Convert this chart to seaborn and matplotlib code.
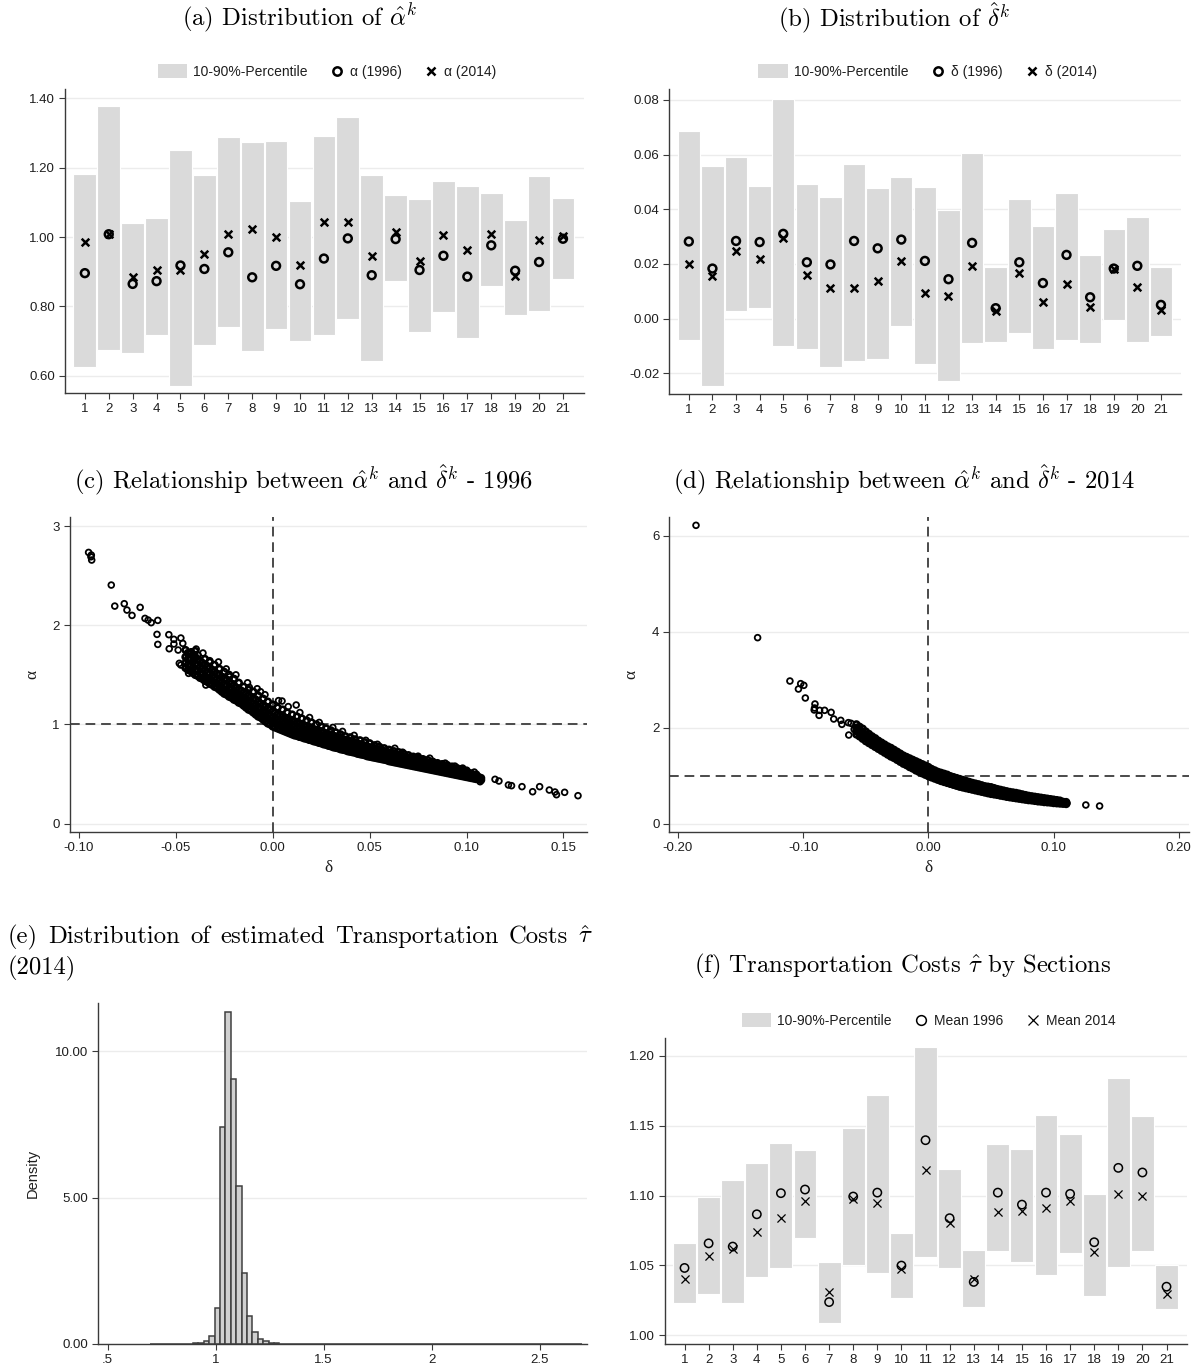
import numpy as np
import matplotlib
matplotlib.use("Agg")
import matplotlib.pyplot as plt
import seaborn as sns
from matplotlib.lines import Line2D
from matplotlib.patches import Rectangle, Patch
from matplotlib.legend_handler import HandlerPatch

# ---------------------------------------------------------------- data
sections = list(range(1, 22))

# (a) alpha by section: 10th / 90th percentile and means
alpha_p10 = [0.627, 0.675, 0.666, 0.718, 0.572, 0.690, 0.740, 0.673, 0.735, 0.702, 0.718,
             0.764, 0.644, 0.872, 0.728, 0.783, 0.708, 0.858, 0.776, 0.787, 0.878]
alpha_p90 = [1.181, 1.378, 1.041, 1.054, 1.251, 1.179, 1.288, 1.274, 1.277, 1.104, 1.290,
             1.346, 1.179, 1.120, 1.110, 1.161, 1.148, 1.128, 1.049, 1.176, 1.113]
alpha_1996 = [0.896, 1.008, 0.865, 0.873, 0.918, 0.908, 0.956, 0.884, 0.917, 0.864, 0.938,
              0.996, 0.890, 0.994, 0.905, 0.946, 0.886, 0.976, 0.903, 0.928, 0.995]
alpha_2014 = [0.985, 1.008, 0.886, 0.906, 0.904, 0.950, 1.009, 1.024, 1.001, 0.918, 1.043,
              1.044, 0.944, 1.015, 0.931, 1.007, 0.962, 1.009, 0.888, 0.990, 1.004]

# (b) delta by section
delta_p10 = [-0.0079, -0.0245, 0.0027, 0.0037, -0.0101, -0.0112, -0.0178, -0.0156, -0.0149,
             -0.0027, -0.0165, -0.0227, -0.0090, -0.0085, -0.0052, -0.0113, -0.0080, -0.0091,
             -0.0005, -0.0085, -0.0062]
delta_p90 = [0.0685, 0.0560, 0.0593, 0.0484, 0.0805, 0.0493, 0.0445, 0.0566, 0.0476, 0.0517,
             0.0483, 0.0396, 0.0605, 0.0190, 0.0437, 0.0337, 0.0459, 0.0232, 0.0329, 0.0373,
             0.0190]
delta_1996 = [0.0282, 0.0183, 0.0284, 0.0280, 0.0310, 0.0206, 0.0198, 0.0284, 0.0257, 0.0289,
              0.0211, 0.0144, 0.0277, 0.0038, 0.0206, 0.0130, 0.0233, 0.0078, 0.0183, 0.0193,
              0.0050]
delta_2014 = [0.0198, 0.0154, 0.0246, 0.0217, 0.0294, 0.0158, 0.0113, 0.0113, 0.0139, 0.0211,
              0.0095, 0.0082, 0.0194, 0.0026, 0.0168, 0.0060, 0.0126, 0.0043, 0.0183, 0.0116,
              0.0031]

# (f) transportation costs by section
tau_p10 = [1.0229, 1.0296, 1.0229, 1.0420, 1.0484, 1.0699, 1.0086, 1.0503, 1.0444, 1.0269,
           1.0558, 1.0479, 1.0205, 1.0604, 1.0527, 1.0432, 1.0592, 1.0281, 1.0491, 1.0604,
           1.0186]
tau_p90 = [1.0661, 1.0990, 1.1112, 1.1236, 1.1379, 1.1329, 1.0522, 1.1480, 1.1716, 1.0732,
           1.2062, 1.1188, 1.0611, 1.1372, 1.1334, 1.1578, 1.1439, 1.1009, 1.1840, 1.1568,
           1.0501]
tau_mean_1996 = [1.0482, 1.0658, 1.0635, 1.0866, 1.1017, 1.1043, 1.0238, 1.0993, 1.1021,
                 1.0499, 1.1396, 1.0838, 1.0382, 1.1021, 1.0935, 1.1021, 1.1012, 1.0666,
                 1.1198, 1.1165, 1.0348]
tau_mean_2014 = [1.0403, 1.0568, 1.0616, 1.0742, 1.0840, 1.0962, 1.0310, 1.0974, 1.0950,
                 1.0472, 1.1184, 1.0802, 1.0405, 1.0885, 1.0888, 1.0909, 1.0959, 1.0594,
                 1.1012, 1.0997, 1.0298]

# (e) histogram of tau (2014): bin centres and densities of the non-empty bins
tau_centers = [0.8825, 0.9075, 0.9325, 0.9575, 0.9825, 1.0075, 1.0325, 1.0575, 1.0825,
               1.1075, 1.1325, 1.1575, 1.1825, 1.2075, 1.2325, 1.2575, 1.2825, 1.3075,
               2.5325, 2.6825]
tau_density = [0.01, 0.02, 0.05, 0.09, 0.27, 1.23, 7.43, 11.35, 9.04, 5.39, 2.44, 0.97,
               0.41, 0.18, 0.09, 0.05, 0.02, 0.01, 0.01, 0.01]

# (c) alpha vs delta, 1996: isolated industries and the dense band (delta, alphas...)
outliers_1996 = [(-0.0950, 2.734), (-0.0936, 2.707), (-0.0938, 2.690), (-0.0934, 2.657),
                 (-0.0833, 2.405), (-0.0815, 2.193), (-0.0766, 2.217), (-0.0752, 2.153),
                 (-0.0726, 2.099), (-0.0684, 2.180), (-0.0659, 2.069), (-0.0643, 2.052),
                 (-0.0627, 2.026), (-0.0593, 2.049), (-0.0597, 1.908), (-0.0593, 1.807),
                 (-0.0536, 1.905), (-0.0534, 1.763), (-0.0510, 1.858), (-0.0510, 1.811),
                 (-0.0474, 1.871), (-0.0464, 1.817), (-0.0488, 1.750), (-0.0482, 1.616),
                 (-0.0474, 1.599), (-0.0325, 1.643), (-0.0355, 1.448), (-0.0345, 1.397),
                 (-0.0434, 1.515), (-0.0385, 1.700), (-0.0421, 1.733), (-0.0405, 1.666),
                 (0.0121, 1.196), (0.0048, 1.236), (-0.0063, 1.330), (-0.0121, 1.374),
                 (-0.0222, 1.481), (0.1063, 0.474), (0.1070, 0.423), (0.1147, 0.447),
                 (0.1167, 0.430), (0.1216, 0.390), (0.1232, 0.383), (0.1286, 0.373),
                 (0.1341, 0.322), (0.1377, 0.373), (0.1427, 0.339), (0.1456, 0.319),
                 (0.1464, 0.292), (0.1506, 0.316), (0.1575, 0.282),
                 (-0.0395, 1.76), (-0.0360, 1.72), (-0.0280, 1.63), (-0.0240, 1.56),
                 (-0.0190, 1.50), (-0.0130, 1.42), (-0.0080, 1.36), (-0.0040, 1.30),
                 (0.0030, 1.24), (0.0080, 1.18), (0.0140, 1.12), (0.0190, 1.07),
                 (0.0240, 1.02), (0.0310, 0.97), (0.0360, 0.93), (0.0420, 0.89),
                 (0.0480, 0.84), (0.0540, 0.80), (0.0630, 0.76), (0.0670, 0.72),
                 (0.0750, 0.68), (0.0810, 0.66), (0.0890, 0.61), (0.0940, 0.58),
                 (0.0980, 0.56), (0.1040, 0.52)]
band_1996 = [
    (-0.0450, 1.57, 1.62, 1.68, 1.75), (-0.0425, 1.54, 1.59, 1.66, 1.72),
    (-0.0400, 1.50, 1.55, 1.61, 1.68, 1.74), (-0.0375, 1.47, 1.52, 1.58, 1.64),
    (-0.0350, 1.44, 1.48, 1.54, 1.60, 1.66), (-0.0325, 1.41, 1.45, 1.51, 1.57, 1.63),
    (-0.0300, 1.38, 1.42, 1.47, 1.53, 1.60), (-0.0275, 1.35, 1.39, 1.44, 1.50, 1.56),
    (-0.0250, 1.31, 1.35, 1.40, 1.46, 1.53), (-0.0225, 1.28, 1.32, 1.37, 1.43, 1.50),
    (-0.0200, 1.25, 1.29, 1.34, 1.39, 1.46), (-0.0175, 1.22, 1.26, 1.30, 1.35, 1.42),
    (-0.0150, 1.19, 1.23, 1.27, 1.32, 1.38), (-0.0125, 1.15, 1.19, 1.24, 1.29, 1.35),
    (-0.0100, 1.12, 1.16, 1.21, 1.26, 1.33), (-0.0075, 1.08, 1.12, 1.17, 1.23, 1.29),
    (-0.0050, 1.05, 1.09, 1.14, 1.19, 1.26), (-0.0025, 1.01, 1.06, 1.11, 1.16, 1.23),
    (0.0000, 0.98, 1.02, 1.07, 1.13, 1.20), (0.0025, 0.96, 1.00, 1.05, 1.10, 1.17),
    (0.0050, 0.94, 0.98, 1.03, 1.08, 1.15), (0.0075, 0.92, 0.96, 1.01, 1.06, 1.12),
    (0.0100, 0.90, 0.94, 0.99, 1.04, 1.10), (0.0125, 0.885, 0.92, 0.97, 1.02, 1.08),
    (0.0150, 0.87, 0.91, 0.95, 1.00, 1.06), (0.0175, 0.855, 0.89, 0.935, 0.98, 1.04),
    (0.0200, 0.84, 0.875, 0.92, 0.96, 1.02), (0.0225, 0.825, 0.86, 0.90, 0.945, 1.00),
    (0.0250, 0.81, 0.845, 0.885, 0.93, 0.98), (0.0275, 0.795, 0.83, 0.87, 0.91, 0.96),
    (0.0300, 0.78, 0.815, 0.855, 0.895, 0.94), (0.0325, 0.765, 0.80, 0.84, 0.88, 0.92),
    (0.0350, 0.75, 0.785, 0.825, 0.86, 0.90), (0.0375, 0.74, 0.77, 0.81, 0.845, 0.88),
    (0.0400, 0.725, 0.76, 0.795, 0.83, 0.87), (0.0425, 0.715, 0.745, 0.78, 0.815, 0.85),
    (0.0450, 0.70, 0.73, 0.765, 0.80, 0.84), (0.0475, 0.69, 0.72, 0.75, 0.785, 0.82),
    (0.0500, 0.675, 0.705, 0.74, 0.77, 0.81), (0.0525, 0.665, 0.695, 0.725, 0.76, 0.79),
    (0.0550, 0.655, 0.68, 0.71, 0.745, 0.775), (0.0575, 0.645, 0.67, 0.70, 0.73, 0.76),
    (0.0600, 0.63, 0.655, 0.685, 0.715, 0.745), (0.0625, 0.62, 0.645, 0.675, 0.705, 0.73),
    (0.0650, 0.61, 0.635, 0.66, 0.69, 0.72), (0.0675, 0.60, 0.625, 0.65, 0.68, 0.705),
    (0.0700, 0.59, 0.615, 0.64, 0.665, 0.69), (0.0725, 0.58, 0.60, 0.625, 0.65, 0.675),
    (0.0750, 0.57, 0.59, 0.615, 0.64, 0.665), (0.0775, 0.56, 0.58, 0.605, 0.63, 0.65),
    (0.0800, 0.55, 0.57, 0.59, 0.615, 0.64), (0.0825, 0.54, 0.56, 0.58, 0.605, 0.625),
    (0.0850, 0.53, 0.55, 0.57, 0.59, 0.61), (0.0875, 0.52, 0.54, 0.56, 0.58, 0.60),
    (0.0900, 0.51, 0.53, 0.55, 0.57, 0.59), (0.0925, 0.50, 0.52, 0.54, 0.555, 0.575),
    (0.0950, 0.49, 0.51, 0.525, 0.545, 0.56), (0.0975, 0.48, 0.50, 0.515, 0.535, 0.55),
    (0.1000, 0.47, 0.485, 0.50, 0.52, 0.535), (0.1025, 0.46, 0.475, 0.49, 0.505),
    (0.1050, 0.45, 0.465, 0.48, 0.495), (0.1075, 0.44, 0.46),
    (-0.04375, 1.55, 1.60, 1.66, 1.72), (-0.04125, 1.52, 1.57, 1.63, 1.70),
    (-0.03875, 1.49, 1.54, 1.60, 1.66), (-0.03625, 1.46, 1.51, 1.56, 1.62),
    (-0.03375, 1.43, 1.47, 1.52, 1.58), (-0.03125, 1.40, 1.44, 1.49, 1.55),
    (-0.02875, 1.37, 1.41, 1.46, 1.51), (-0.02625, 1.33, 1.37, 1.42, 1.48),
    (-0.02375, 1.30, 1.34, 1.39, 1.45), (-0.02125, 1.27, 1.31, 1.36, 1.41),
    (-0.01875, 1.24, 1.27, 1.32, 1.37), (-0.01625, 1.21, 1.24, 1.29, 1.34),
    (-0.01375, 1.17, 1.21, 1.26, 1.31), (-0.01125, 1.14, 1.18, 1.22, 1.28),
    (-0.00875, 1.10, 1.14, 1.19, 1.25), (-0.00625, 1.07, 1.11, 1.16, 1.21),
    (-0.00375, 1.03, 1.08, 1.12, 1.18), (-0.00125, 1.00, 1.04, 1.09, 1.15),
    (0.00125, 0.97, 1.01, 1.06, 1.12), (0.00375, 0.95, 0.99, 1.04, 1.09),
    (0.00625, 0.93, 0.97, 1.02, 1.07), (0.00875, 0.91, 0.95, 1.00, 1.05),
    (0.01125, 0.89, 0.93, 0.98, 1.03), (0.01375, 0.875, 0.915, 0.96, 1.01),
    (0.01625, 0.86, 0.90, 0.94, 0.99), (0.01875, 0.845, 0.885, 0.925, 0.97),
    (0.02125, 0.83, 0.87, 0.91, 0.95), (0.02375, 0.815, 0.855, 0.895, 0.94),
    (0.02625, 0.80, 0.84, 0.875, 0.92), (0.02875, 0.785, 0.825, 0.86, 0.90),
    (0.03125, 0.77, 0.81, 0.845, 0.885), (0.03375, 0.76, 0.795, 0.83, 0.87),
    (0.03625, 0.745, 0.78, 0.815, 0.85), (0.03875, 0.73, 0.765, 0.80, 0.84),
    (0.04125, 0.72, 0.75, 0.785, 0.82), (0.04375, 0.705, 0.74, 0.77, 0.81),
    (0.04625, 0.695, 0.725, 0.76, 0.795), (0.04875, 0.68, 0.71, 0.745, 0.78),
    (0.05125, 0.67, 0.70, 0.73, 0.765), (0.05375, 0.66, 0.69, 0.72, 0.75),
    (0.05625, 0.65, 0.675, 0.705, 0.74), (0.05875, 0.64, 0.665, 0.69, 0.725),
    (0.06125, 0.625, 0.65, 0.68, 0.71), (0.06375, 0.615, 0.64, 0.665, 0.695),
    (0.06625, 0.605, 0.63, 0.655, 0.685), (0.06875, 0.595, 0.62, 0.645, 0.67),
    (0.07125, 0.585, 0.61, 0.63, 0.655), (0.07375, 0.575, 0.595, 0.62, 0.645),
    (0.07625, 0.565, 0.585, 0.61, 0.635), (0.07875, 0.555, 0.575, 0.60, 0.62),
    (0.08125, 0.545, 0.565, 0.585, 0.61), (0.08375, 0.535, 0.555, 0.575, 0.60),
    (0.08625, 0.525, 0.545, 0.565, 0.585), (0.08875, 0.515, 0.535, 0.555, 0.575),
    (0.09125, 0.505, 0.525, 0.545, 0.565), (0.09375, 0.495, 0.515, 0.53, 0.55),
    (0.09625, 0.485, 0.505, 0.52, 0.54), (0.09875, 0.475, 0.49, 0.51, 0.525),
    (0.10125, 0.465, 0.48, 0.495, 0.51), (0.10375, 0.455, 0.47, 0.485),
]

# (d) alpha vs delta, 2014
outliers_2014 = [(-0.1856, 6.220), (-0.1364, 3.878), (-0.1106, 2.974), (-0.1020, 2.919),
                 (-0.0995, 2.884), (-0.1038, 2.807), (-0.0983, 2.620), (-0.0906, 2.495),
                 (-0.0909, 2.411), (-0.0912, 2.370), (-0.0869, 2.363), (-0.0873, 2.258),
                 (-0.0829, 2.363), (-0.0777, 2.321), (-0.0756, 2.182), (-0.0700, 2.154),
                 (-0.0691, 2.071), (-0.0639, 2.106), (-0.0618, 2.092), (-0.0636, 1.848),
                 (-0.0593, 1.967), (0.1106, 0.424), (0.1257, 0.389), (0.1367, 0.368)]
band_2014 = [
    (-0.0575, 1.86, 1.93, 2.00, 2.07), (-0.0550, 1.82, 1.88, 1.95, 2.02),
    (-0.0525, 1.77, 1.84, 1.91, 1.98), (-0.0500, 1.72, 1.79, 1.86, 1.92),
    (-0.0475, 1.68, 1.74, 1.81, 1.87), (-0.0450, 1.64, 1.70, 1.76, 1.82),
    (-0.0425, 1.60, 1.66, 1.72, 1.78), (-0.0400, 1.56, 1.62, 1.67, 1.73),
    (-0.0375, 1.52, 1.58, 1.63, 1.69), (-0.0350, 1.48, 1.54, 1.59, 1.65),
    (-0.0325, 1.44, 1.50, 1.55, 1.61), (-0.0300, 1.40, 1.46, 1.52, 1.58),
    (-0.0275, 1.37, 1.42, 1.48, 1.54), (-0.0250, 1.33, 1.38, 1.44, 1.50),
    (-0.0225, 1.29, 1.35, 1.40, 1.46), (-0.0200, 1.25, 1.31, 1.36, 1.42),
    (-0.0175, 1.22, 1.27, 1.33, 1.39), (-0.0150, 1.18, 1.24, 1.30, 1.36),
    (-0.0125, 1.15, 1.20, 1.26, 1.33), (-0.0100, 1.11, 1.17, 1.23, 1.30),
    (-0.0075, 1.08, 1.14, 1.20, 1.27), (-0.0050, 1.05, 1.11, 1.17, 1.24),
    (-0.0025, 1.02, 1.08, 1.14, 1.21), (0.0000, 0.99, 1.05, 1.11, 1.18),
    (0.0025, 0.965, 1.02, 1.08, 1.14), (0.0050, 0.94, 0.99, 1.05, 1.11),
    (0.0075, 0.915, 0.97, 1.02, 1.08), (0.0100, 0.89, 0.94, 1.00, 1.06),
    (0.0125, 0.87, 0.92, 0.98, 1.04), (0.0150, 0.85, 0.90, 0.96, 1.02),
    (0.0175, 0.83, 0.88, 0.935, 0.99), (0.0200, 0.81, 0.86, 0.915, 0.97),
    (0.0225, 0.79, 0.84, 0.895, 0.95), (0.0250, 0.77, 0.82, 0.875, 0.93),
    (0.0275, 0.755, 0.80, 0.855, 0.91), (0.0300, 0.74, 0.79, 0.84, 0.89),
    (0.0325, 0.725, 0.77, 0.82, 0.87), (0.0350, 0.71, 0.755, 0.80, 0.85),
    (0.0375, 0.695, 0.74, 0.785, 0.835), (0.0400, 0.68, 0.725, 0.77, 0.82),
    (0.0425, 0.665, 0.71, 0.755, 0.80), (0.0450, 0.65, 0.695, 0.74, 0.78),
    (0.0475, 0.635, 0.68, 0.725, 0.77), (0.0500, 0.62, 0.665, 0.71, 0.76),
    (0.0525, 0.61, 0.65, 0.69, 0.74), (0.0550, 0.60, 0.64, 0.68, 0.72),
    (0.0575, 0.585, 0.625, 0.665, 0.705), (0.0600, 0.575, 0.61, 0.65, 0.69),
    (0.0625, 0.56, 0.60, 0.635, 0.675), (0.0650, 0.55, 0.585, 0.62, 0.66),
    (0.0675, 0.54, 0.575, 0.61, 0.65), (0.0700, 0.53, 0.565, 0.60, 0.64),
    (0.0725, 0.52, 0.555, 0.585, 0.625), (0.0750, 0.51, 0.545, 0.575, 0.61),
    (0.0775, 0.50, 0.535, 0.565, 0.595), (0.0800, 0.49, 0.52, 0.55, 0.58),
    (0.0825, 0.485, 0.51, 0.54, 0.57), (0.0850, 0.475, 0.50, 0.53, 0.56),
    (0.0875, 0.465, 0.49, 0.52, 0.55), (0.0900, 0.46, 0.485, 0.51, 0.54),
    (0.0925, 0.45, 0.475, 0.50, 0.53), (0.0950, 0.445, 0.47, 0.495, 0.52),
    (0.0975, 0.44, 0.46, 0.485, 0.51), (0.1000, 0.43, 0.455, 0.475, 0.50),
    (0.1025, 0.425, 0.445, 0.47, 0.49), (0.1050, 0.42, 0.44, 0.46, 0.48),
    (0.1075, 0.415, 0.435, 0.455), (0.1100, 0.41, 0.43, 0.45),
]

# ---------------------------------------------------------------- style
sns.set_style("ticks")
plt.rcParams["font.family"] = ["Liberation Sans", "DejaVu Sans"]
plt.rcParams["mathtext.fontset"] = "cm"
plt.rcParams["axes.unicode_minus"] = False

BAR_GRAY = "#dadada"
INK = "#1e1e1e"
AX_COL = "#3a3a3a"
GRID = "#ececec"
TICK_FS = 9.5
LEG_FS = 10
TITLE_FS = 17.8
W, H = 1198, 1371


def px_axes(fig, left, top, right, bottom):
    return fig.add_axes([left / W, 1 - bottom / H, (right - left) / W, (bottom - top) / H])


def style_axes(ax):
    for s in ("top", "right"):
        ax.spines[s].set_visible(False)
    for s in ("left", "bottom"):
        ax.spines[s].set_color(AX_COL)
        ax.spines[s].set_linewidth(1.0)
    ax.tick_params(axis="both", direction="out", length=4, width=0.8, color=AX_COL,
                   labelsize=TICK_FS, labelcolor=INK, pad=3)
    ax.yaxis.grid(True, color=GRID, lw=1.0)
    ax.xaxis.grid(False)
    ax.set_axisbelow(True)
    ax.set_xlabel("")
    ax.set_ylabel("")


def flatten(rows):
    xs, ys = [], []
    for row in rows:
        xs += [row[0]] * (len(row) - 1)
        ys += list(row[1:])
    return xs, ys


class WideRect(HandlerPatch):
    def create_artists(self, legend, orig_handle, xdescent, ydescent, width, height,
                       fontsize, trans):
        w, h = 2.1 * fontsize, 1.05 * fontsize
        x0 = -xdescent + width - w
        y0 = -ydescent + height / 2 - h / 2
        r = Rectangle((x0, y0), w, h, facecolor=BAR_GRAY, edgecolor="none", transform=trans)
        return [r]


def percentile_panel(ax, lo, hi, m96, m14, labels, xlim, ylim, yticks, thin=False):
    sns.barplot(x=sections, y=np.subtract(hi, lo), bottom=lo, native_scale=True, width=0.95,
                color=BAR_GRAY, saturation=1, edgecolor="white", linewidth=0.8,
                errorbar=None, ax=ax, zorder=1)
    if thin:
        o_kw = dict(s=36, linewidth=1.1)
        x_kw = dict(s=34, linewidth=0.9)
        o_leg = dict(ms=7, mew=1.1)
        x_leg = dict(ms=6.5, mew=0.9)
    else:
        o_kw = dict(s=32, linewidth=1.8)
        x_kw = dict(s=30, linewidth=1.8)
        o_leg = dict(ms=6, mew=1.8)
        x_leg = dict(ms=5.5, mew=1.8)
    sns.scatterplot(x=sections, y=m96, marker="o", facecolor="none", edgecolor="black",
                    ax=ax, zorder=3, **o_kw)
    sns.scatterplot(x=sections, y=m14, marker="x", color="black", ax=ax, zorder=4, **x_kw)
    style_axes(ax)
    ax.set_xlim(*xlim)
    ax.set_ylim(*ylim)
    ax.set_xticks(sections, labels=[str(s) for s in sections])
    ax.set_yticks(yticks, labels=[f"{v:.2f}" for v in yticks])
    handles = [Patch(facecolor=BAR_GRAY, edgecolor="none"),
               Line2D([], [], ls="", marker="o", mfc="none", mec="black", **o_leg),
               Line2D([], [], ls="", marker="x", mec="black", **x_leg)]
    leg = ax.legend(handles, labels, loc="center", bbox_to_anchor=(0.52, 1 + 17 / 304),
                    ncol=3, frameon=False, fontsize=LEG_FS, handlelength=1.0,
                    handletextpad=0.45, columnspacing=1.6, handler_map={Patch: WideRect()})
    for t in leg.get_texts():
        t.set_color(INK)


def scatter_panel(ax, rows, outliers, xlim, ylim, xticks, yticks):
    d, a = flatten(rows)
    od = [p[0] for p in outliers]
    oa = [p[1] for p in outliers]
    ax.axvline(0, color="#4a4a4a", lw=1.4, ls=(0, (5, 3)), zorder=1)
    ax.axhline(1, color="#4a4a4a", lw=1.4, ls=(0, (5, 3)), zorder=1)
    # dense core of the cloud: heavier rings so overlapping markers merge
    sns.scatterplot(x=d, y=a, marker="o", s=17, facecolor="none", edgecolor="black",
                    linewidth=1.9, ax=ax, zorder=3)
    sns.scatterplot(x=od, y=oa, marker="o", s=17, facecolor="none", edgecolor="black",
                    linewidth=1.3, ax=ax, zorder=3)
    style_axes(ax)
    ax.set_xlim(*xlim)
    ax.set_ylim(*ylim)
    ax.set_xticks(xticks, labels=[f"{v:.2f}" for v in xticks])
    ax.set_yticks(yticks, labels=[str(v) for v in yticks])
    ax.set_xlabel("δ", fontfamily="Liberation Serif", fontsize=12.5, color=INK)
    ax.set_ylabel("α", fontfamily="Liberation Serif", fontsize=12.5, color=INK)
    ax.xaxis.set_label_coords(0.5, -0.088)
    ax.yaxis.set_label_coords(-0.057, 0.5)


def title(x, y, s, ha="center", va="center"):
    return fig.text(x / W, 1 - y / H, s, ha=ha, va=va, fontsize=TITLE_FS,
                    fontfamily="cmr10", color="black")


def justified_title(x0, x1, y, words):
    # set one title line flush to both ends by widening the word gaps
    renderer = fig.canvas.get_renderer()
    texts = [title(x0, y, w, ha="left", va="baseline") for w in words]
    widths = [t.get_window_extent(renderer).width for t in texts]
    gap = (x1 - x0 - sum(widths)) / (len(words) - 1)
    x = x0
    for t, w in zip(texts, widths):
        t.set_x(x / W)
        x += w + gap


# ---------------------------------------------------------------- figure
fig = plt.figure(figsize=(W / 100, H / 100), dpi=100)

ax_a = px_axes(fig, 65, 89, 584, 393)
percentile_panel(ax_a, alpha_p10, alpha_p90, alpha_1996, alpha_2014,
                 ["10-90%-Percentile", "α (1996)", "α (2014)"],
                 (0.17, 21.88), (0.551, 1.426), [0.6, 0.8, 1.0, 1.2, 1.4])

ax_b = px_axes(fig, 669, 89, 1181, 394)
percentile_panel(ax_b, delta_p10, delta_p90, delta_1996, delta_2014,
                 ["10-90%-Percentile", "δ (1996)", "δ (2014)"],
                 (0.16, 21.85), (-0.0276, 0.084), [-0.02, 0.0, 0.02, 0.04, 0.06, 0.08])

ax_c = px_axes(fig, 69.6, 516.7, 587.3, 832)
scatter_panel(ax_c, band_1996, outliers_1996, (-0.1048, 0.1623), (-0.084, 3.094),
              [-0.10, -0.05, 0.0, 0.05, 0.10, 0.15], [0, 1, 2, 3])

ax_d = px_axes(fig, 669.2, 516.7, 1188.5, 832)
scatter_panel(ax_d, band_2014, outliers_2014, (-0.207, 0.2077), (-0.174, 6.40),
              [-0.20, -0.10, 0.0, 0.10, 0.20], [0, 2, 4, 6])

ax_e = px_axes(fig, 98, 1003, 587, 1344)
tau_edges = [round(0.695 + 0.025 * i, 4) for i in range(81)]
sns.histplot(x=tau_centers, weights=tau_density, bins=tau_edges, stat="count",
             color="#d0d0d0", edgecolor="#404040", linewidth=1.1, alpha=1, ax=ax_e, zorder=2)
style_axes(ax_e)
ax_e.set_xlim(0.4555, 2.719)
ax_e.set_ylim(0, 11.65)
ax_e.set_xticks([0.5, 1, 1.5, 2, 2.5], labels=[".5", "1", "1.5", "2", "2.5"])
ax_e.set_yticks([0, 5, 10], labels=["0.00", "5.00", "10.00"])
ax_e.set_ylabel("Density", fontsize=10.5, color=INK)
ax_e.yaxis.set_label_coords(-0.119, 0.5)

ax_f = px_axes(fig, 665, 1038, 1187, 1344)
percentile_panel(ax_f, tau_p10, tau_p90, tau_mean_1996, tau_mean_2014,
                 ["10-90%-Percentile", "Mean 1996", "Mean 2014"],
                 (0.19, 21.85), (0.9938, 1.2127), [1.0, 1.05, 1.10, 1.15, 1.20], thin=True)

# ---------------------------------------------------------------- titles
title(300, 18, r"(a) Distribution of $\hat{\alpha}^k$")
title(894, 18, r"(b) Distribution of $\hat{\delta}^k$")
title(303, 480, r"(c) Relationship between $\hat{\alpha}^k$ and $\hat{\delta}^k$ - 1996")
title(904, 480, r"(d) Relationship between $\hat{\alpha}^k$ and $\hat{\delta}^k$ - 2014")
justified_title(8, 593, 943, ["(e)", "Distribution", "of", "estimated", "Transportation",
                              "Costs", r"$\hat{\tau}$"])
title(8, 974, "(2014)", ha="left", va="baseline")
title(903, 966, r"(f) Transportation Costs $\hat{\tau}$ by Sections")

fig.savefig("out.png", dpi=100)
